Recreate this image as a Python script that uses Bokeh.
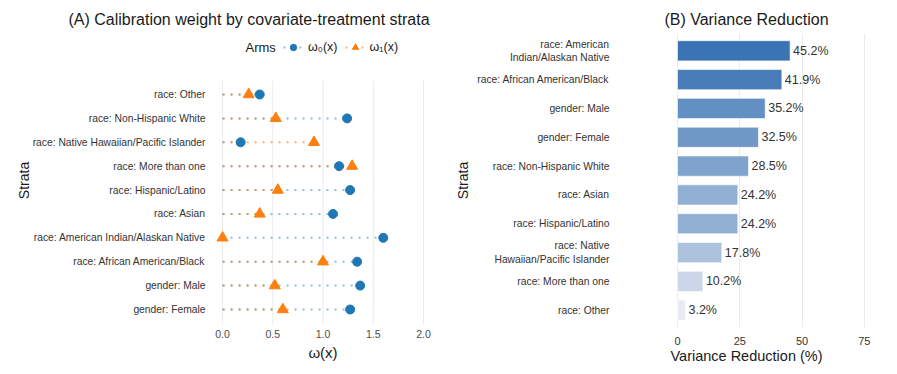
from bokeh.plotting import figure
from bokeh.models import (Range1d, Legend, LegendItem, LinearColorMapper,
                          ColumnDataSource, PrintfTickFormatter, Label)
from bokeh.layouts import row
from bokeh.embed import file_html
from bokeh.resources import INLINE
from bokeh.core.properties import value

# ---------------- data ----------------
# Panel A (bottom -> top)
strata = ["gender: Female", "gender: Male", "race: African American/Black",
          "race: American Indian/Alaskan Native", "race: Asian",
          "race: Hispanic/Latino", "race: More than one",
          "race: Native Hawaiian/Pacific Islander", "race: Non-Hispanic White",
          "race: Other"]
omega0 = [1.27, 1.37, 1.34, 1.60, 1.10, 1.27, 1.16, 0.18, 1.24, 0.37]
omega1 = [0.60, 0.52, 1.00, 0.00, 0.37, 0.55, 1.29, 0.91, 0.53, 0.26]
ticks_a = [0.0, 0.5, 1.0, 1.5, 2.0]
arm_labels = ["ω₀(x)", "ω₁(x)"]
legend_title = "Arms"

# Panel B (bottom -> top); wrapped labels, first line padded so lines end flush right
NB = "\u00a0"
vr_strata = ["race: Other", "race: More than one",
             NB * 21 + "race: Native\nHawaiian/Pacific Islander",
             "race: Hispanic/Latino", "race: Asian", "race: Non-Hispanic White",
             "gender: Female", "gender: Male", "race: African American/Black",
             NB * 11 + "race: American\nIndian/Alaskan Native"]
vr_values = [3.2, 10.2, 17.8, 24.2, 24.2, 28.5, 32.5, 35.2, 41.9, 45.2]
ticks_b = [0, 25, 50, 75]

FONT = "Liberation Sans"
BLUE = "#1f77b4"
ORANGE = "#ff7f0e"
GRID = "#ebebeb"


def style_axes(p):
    for ax in (p.xaxis[0], p.yaxis[0]):
        ax.axis_line_color = None
        ax.major_tick_line_color = None
        ax.minor_tick_line_color = None
        ax.major_tick_out = 0
        ax.major_tick_in = 0
        ax.minor_tick_out = 0
        ax.minor_tick_in = 0
        ax.major_label_text_font = FONT
        ax.axis_label_text_font = FONT
        ax.axis_label_text_font_style = "normal"
        ax.axis_label_text_color = "#1a1a1a"
    p.outline_line_color = None
    p.ygrid.visible = False
    p.xgrid.grid_line_color = GRID
    p.xgrid.grid_line_width = 1
    p.title.text_font = FONT
    p.title.text_font_size = "16px"
    p.title.text_font_style = "normal"
    p.title.text_color = "#1a1a1a"
    p.title.standoff = 11


# ---------------- Panel A ----------------
n = len(strata)
ypos = list(range(1, n + 1))
src_a = ColumnDataSource(dict(y=ypos, w0=omega0, w1=omega1, zero=[0.0] * n))

p1 = figure(frame_width=221, frame_height=294, output_backend="svg",
            toolbar_location=None,
            x_range=Range1d(-0.1, 2.1), y_range=Range1d(0.2465, 12.553),
            min_border_left=212, min_border_right=17, min_border_top=33,
            min_border_bottom=46,
            title="(A) Calibration weight by covariate-treatment strata")
style_axes(p1)
p1.xgrid.visible = False
# grid lines limited to the strata band (ggplot-style panel)
p1.segment(x0=ticks_a, y0=[1 - 0.6] * len(ticks_a), x1=ticks_a,
           y1=[n + 0.6] * len(ticks_a), line_color=GRID, line_width=1,
           level="underlay")

seg0 = p1.segment(x0="zero", y0="y", x1="w0", y1="y", source=src_a,
                  line_color=BLUE, line_alpha=0.5, line_width=2,
                  line_dash="2 6")
seg1 = p1.segment(x0="zero", y0="y", x1="w1", y1="y", source=src_a,
                  line_color=ORANGE, line_alpha=0.6, line_width=2,
                  line_dash="2 6")
c0 = p1.scatter(x="w0", y="y", source=src_a, marker="circle", size=9,
                fill_color=BLUE, line_color=BLUE)
t1 = p1.scatter(x="w1", y="y", source=src_a, marker="triangle", size=11,
                fill_color=ORANGE, line_color=ORANGE)

p1.xaxis.ticker = ticks_a
p1.xaxis.formatter = PrintfTickFormatter(format="%.1f")
p1.xaxis.major_label_text_font_size = "10.5px"
p1.xaxis.major_label_text_color = "#4d4d4d"
p1.xaxis.major_label_standoff = 2
p1.xaxis.axis_label = "ω(x)"
p1.xaxis.axis_label_text_font_size = "15px"
p1.xaxis.axis_label_standoff = 3

p1.yaxis.ticker = ypos
p1.yaxis.major_label_overrides = {i: s for i, s in zip(ypos, strata)}
p1.yaxis.major_label_text_font_size = "10.3px"
p1.yaxis.major_label_text_color = "#333333"
p1.yaxis.major_label_standoff = 7
p1.yaxis.axis_label = "Strata"
p1.yaxis.axis_label_text_font_size = "14px"
p1.yaxis.axis_label_standoff = -2

p1.title.align = "left"
p1.title.offset = -144

legend = Legend(items=[LegendItem(label=arm_labels[0], renderers=[seg0, c0]),
                       LegendItem(label=arm_labels[1], renderers=[seg1, t1])],
                orientation="horizontal", location=(71, 272), padding=0,
                margin=0, spacing=7, glyph_width=20, glyph_height=16,
                label_standoff=5, background_fill_alpha=0,
                border_line_color=None)
legend.label_text_font = FONT
legend.label_text_font_size = "12.5px"
legend.label_text_color = "#1a1a1a"
p1.add_layout(legend)

p1.add_layout(Label(x=33, y=280, x_units="screen", y_units="screen",
                    text=legend_title, text_font=FONT, text_font_size="13px",
                    text_color="#1a1a1a", text_baseline="middle",
                    text_align="left"))

# ---------------- Panel B ----------------
ypos_b = list(range(1, len(vr_strata) + 1))
src_b = ColumnDataSource(dict(y=ypos_b, v=vr_values,
                              lab=[f"{v:.1f}%" for v in vr_values]))


def _hex(c):
    return tuple(int(c[i:i + 2], 16) for i in (1, 3, 5))


lo, hi = _hex("#e8ebf2"), _hex("#3a74b5")
palette = ["#%02x%02x%02x" % tuple(round(lo[k] + (hi[k] - lo[k]) * t / 255)
                                   for k in range(3)) for t in range(256)]
mapper = LinearColorMapper(palette=palette, low=min(vr_values),
                           high=max(vr_values))

p2 = figure(frame_width=266, frame_height=294, output_backend="svg",
            toolbar_location=None,
            x_range=Range1d(-25.7, 81.1), y_range=Range1d(0.4, 10.6),
            min_border_left=163, min_border_right=18, min_border_top=33,
            min_border_bottom=46, title="(B) Variance Reduction")
style_axes(p2)

p2.hbar(y="y", left=0, right="v", height=0.7, source=src_b,
        fill_color={"field": "v", "transform": mapper}, fill_alpha=1.0,
        line_color="white", line_alpha=0.6, line_width=1)
p2.text(x="v", y="y", text="lab", source=src_b, x_offset=3,
        text_baseline="middle", text_align="left", text_font=value(FONT),
        text_font_size="12.5px", text_color="#333333")

p2.xaxis.ticker = ticks_b
p2.xaxis.major_label_text_font_size = "11px"
p2.xaxis.major_label_text_color = "#333333"
p2.xaxis.major_label_standoff = 9
p2.xaxis.axis_label = "Variance Reduction (%)"
p2.xaxis.axis_label_text_font_size = "14.5px"
p2.xaxis.axis_label_standoff = 0

p2.yaxis.ticker = ypos_b
p2.yaxis.major_label_overrides = {i: s for i, s in zip(ypos_b, vr_strata)}
p2.yaxis.major_label_text_font_size = "10.3px"
p2.yaxis.major_label_text_color = "#333333"
p2.yaxis.major_label_standoff = 4
p2.yaxis.axis_label = "Strata"
p2.yaxis.axis_label_text_font_size = "14px"
p2.yaxis.axis_label_standoff = 3

p2.title.align = "center"

layout = row(p1, p2)
open("out.html", "w").write(file_html(layout, INLINE))
